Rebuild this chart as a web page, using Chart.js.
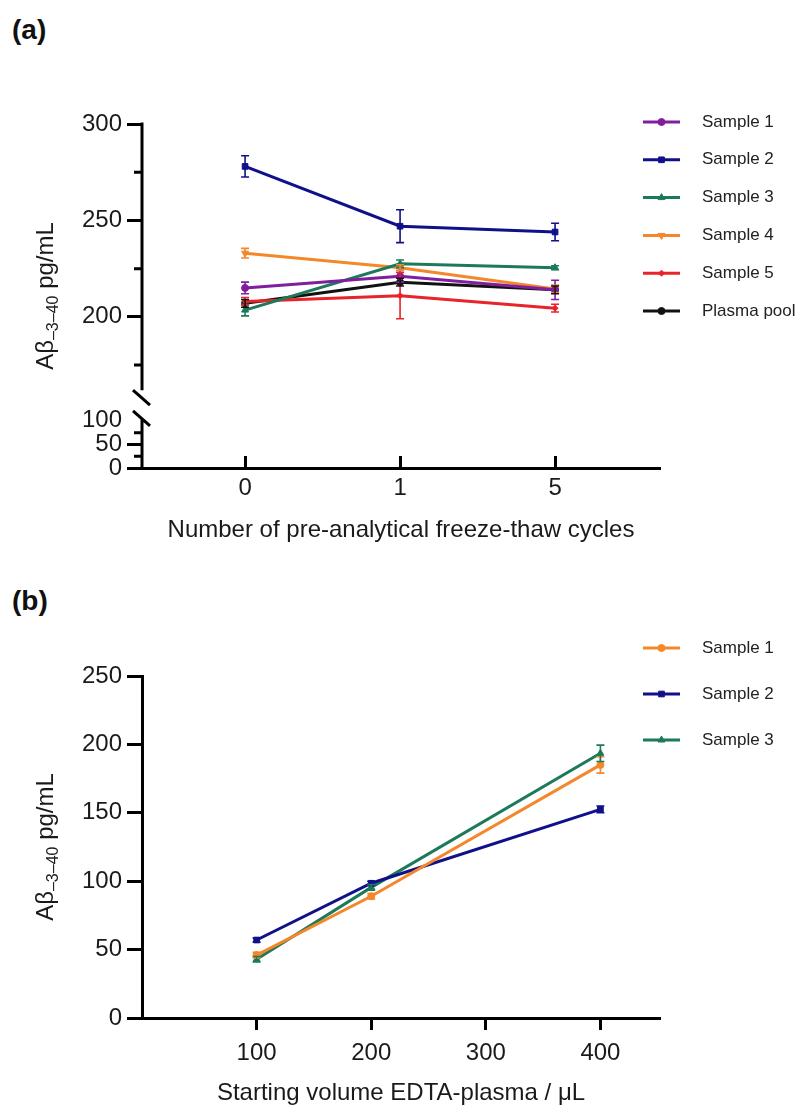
<!DOCTYPE html>
<html>
<head>
<meta charset="utf-8">
<script src="https://cdn.jsdelivr.net/npm/chart.js"></script>
<style>
  body { margin: 0; background: #fff; width: 799px; height: 1106px; position: relative; overflow: hidden; font-family: 'Liberation Sans', Arial, sans-serif; }
  canvas { position: absolute; left: 0; }
  .tag { position: absolute; left: 12px; font-weight: bold; font-size: 28px; line-height: 28px; color: #111; }
</style>
</head>
<body>
<div class="tag" style="top:16px">(a)</div>
<canvas id="chartA" width="799" height="550" style="top:0"></canvas>
<div class="tag" style="top:587px">(b)</div>
<canvas id="chartB" width="799" height="556" style="top:550px"></canvas>
<script>
// panel (a): freeze-thaw cycles
const cycleLabels = ['0', '1', '5'];
const ftSample1 = [215, 221, 214];
const ftSample1Err = [3, 3, 5];
const ftSample2 = [278, 247, 244];
const ftSample2Err = [5.5, 8.5, 4.5];
const ftSample3 = [203.5, 227.5, 225.5];
const ftSample3Err = [3, 2, 1];
const ftSample4 = [233, 225.5, 214.5];
const ftSample4Err = [2.5, 1.5, 2];
const ftSample5 = [208, 211, 204.5];
const ftSample5Err = [2, 12, 2];
const ftPool = [207, 218, 214];
const ftPoolErr = [2, 2, 2];
const upperTicks = [175, 200, 225, 250, 275, 300];
const lowerTicks = [0, 25, 50, 75, 100];

// panel (b): starting volume
const volumes = [100, 200, 400];
const volTicks = [100, 200, 300, 400];
const volSample1 = [46, 89, 185];
const volSample1Err = [2, 2, 6];
const volSample2 = [57, 98.5, 152.5];
const volSample2Err = [1.5, 1.5, 2.5];
const volSample3 = [43, 95.5, 193.5];
const volSample3Err = [2, 2, 6];

const PURPLE = '#7f1f9f', NAVY = '#10108a', GREEN = '#1c7a5a', ORANGE = '#f5872b', RED = '#e8232a', BLACK = '#111111';
const FONT = "'Liberation Sans', Arial, sans-serif";

Chart.defaults.font.family = FONT;
Chart.defaults.color = '#1a1a1a';
Chart.defaults.animation = false;

const toPoints = (xs, ys) => ys.map((y, i) => ({ x: xs[i], y: y }));
const setTicks = values => scale => { scale.ticks = values.map(v => ({ value: v })); };

function series(label, xs, ys, errs, color, style, radius, rotation) {
  return {
    label: label,
    data: toPoints(xs, ys),
    errors: errs,
    xAxisID: 'x',
    yAxisID: 'y',
    borderColor: color,
    backgroundColor: color,
    borderWidth: 3,
    pointStyle: style,
    pointRadius: radius,
    pointRotation: rotation || 0,
    pointBorderWidth: 1,
    tension: 0
  };
}

// error bars drawn from the same scales as the points
const errorBars = {
  id: 'errorBars',
  afterDatasetsDraw(chart) {
    const ctx = chart.ctx;
    chart.data.datasets.forEach((ds, i) => {
      if (!ds.errors) return;
      const meta = chart.getDatasetMeta(i);
      const xs = chart.scales[meta.xAxisID], ys = chart.scales[meta.yAxisID];
      ctx.save();
      ctx.strokeStyle = ds.borderColor;
      ctx.lineWidth = 1.6;
      ds.data.forEach((p, j) => {
        const e = ds.errors[j];
        if (!e) return;
        const x = xs.getPixelForValue(p.x);
        const yt = ys.getPixelForValue(p.y + e), yb = ys.getPixelForValue(p.y - e);
        ctx.beginPath();
        ctx.moveTo(x, yt); ctx.lineTo(x, yb);
        ctx.moveTo(x - 4, yt); ctx.lineTo(x + 4, yt);
        ctx.moveTo(x - 4, yb); ctx.lineTo(x + 4, yb);
        ctx.stroke();
      });
      ctx.restore();
    });
  }
};

const sideLegend = {
  id: 'sideLegend',
  afterDraw(chart, args, o) {
    const ctx = chart.ctx;
    chart.data.datasets.forEach((ds, i) => {
      const y = o.top + i * o.gap;
      ctx.save();
      ctx.strokeStyle = ds.borderColor;
      ctx.lineWidth = 3;
      ctx.beginPath(); ctx.moveTo(o.x, y); ctx.lineTo(o.x + 37, y); ctx.stroke();
      ctx.fillStyle = ds.borderColor;
      ctx.lineWidth = 1;
      if (Chart.helpers && Chart.helpers.drawPoint) {
        Chart.helpers.drawPoint(ctx, { pointStyle: ds.pointStyle, radius: ds.pointRadius, rotation: ds.pointRotation, borderWidth: 1 }, o.x + 18.5, y);
      }
      ctx.fillStyle = '#222';
      ctx.font = '17px ' + FONT;
      ctx.textBaseline = 'middle';
      ctx.fillText(ds.label, o.x + 59, y);
      ctx.restore();
    });
  }
};

// rotated y title with subscript
const yTitle = {
  id: 'yTitle',
  afterDraw(chart, args, o) {
    const ctx = chart.ctx;
    const parts = [['A\u03b2', 24, 0], ['\u20133\u201340', 16, 5], [' pg/mL', 24, 0]];
    ctx.save();
    ctx.translate(o.x, o.y);
    ctx.rotate(-Math.PI / 2);
    ctx.fillStyle = '#1a1a1a';
    ctx.textBaseline = 'alphabetic';
    let total = 0;
    parts.forEach(p => { ctx.font = p[1] + 'px ' + FONT; total += ctx.measureText(p[0]).width; });
    let x = -total / 2;
    parts.forEach(p => {
      ctx.font = p[1] + 'px ' + FONT;
      ctx.fillText(p[0], x, p[2]);
      x += ctx.measureText(p[0]).width;
    });
    ctx.restore();
  }
};

// broken y axis of panel (a)
const brokenAxis = {
  id: 'brokenAxis',
  afterDraw(chart) {
    const ctx = chart.ctx, up = chart.scales.y, lo = chart.scales.y2;
    const x = chart.chartArea.left;
    const yA = up.getPixelForValue(162), yB = lo.getPixelForValue(104);
    ctx.save();
    ctx.strokeStyle = '#000';
    ctx.lineWidth = 3;
    ctx.beginPath();
    ctx.moveTo(x, up.getPixelForValue(300) - 1.5); ctx.lineTo(x, yA);
    ctx.moveTo(x, lo.getPixelForValue(0) + 1.5); ctx.lineTo(x, yB);
    [175, 225, 275].forEach(v => { const y = up.getPixelForValue(v); ctx.moveTo(x - 8, y); ctx.lineTo(x, y); });
    [25, 75].forEach(v => { const y = lo.getPixelForValue(v); ctx.moveTo(x - 8, y); ctx.lineTo(x, y); });
    ctx.moveTo(x - 9, yA); ctx.lineTo(x + 8, yA + 15);
    ctx.moveTo(x - 9, yB - 8); ctx.lineTo(x + 8, yB + 7);
    ctx.stroke();
    ctx.restore();
  }
};

const majorOnly = (ctx) => (ctx.tick && ctx.tick.value % 50 === 0 && ctx.tick.value !== 100) ? '#000' : 'rgba(0,0,0,0)';
const yLabel = v => (v % 50 === 0 ? v : '');

const cycleIdx = cycleLabels.map((c, i) => i);

new Chart(document.getElementById('chartA'), {
  type: 'line',
  data: {
    datasets: [
      series('Sample 1', cycleIdx, ftSample1, ftSample1Err, PURPLE, 'circle', 3.5),
      series('Sample 2', cycleIdx, ftSample2, ftSample2Err, NAVY, 'rect', 4),
      series('Sample 3', cycleIdx, ftSample3, ftSample3Err, GREEN, 'triangle', 4),
      series('Sample 4', cycleIdx, ftSample4, ftSample4Err, ORANGE, 'triangle', 4, 180),
      series('Sample 5', cycleIdx, ftSample5, ftSample5Err, RED, 'rectRot', 3),
      series('Plasma pool', cycleIdx, ftPool, ftPoolErr, BLACK, 'circle', 3.5)
    ]
  },
  options: {
    responsive: false,
    devicePixelRatio: 1,
    layout: { padding: { left: 82, right: 139, top: 124, bottom: 8 } },
    plugins: {
      legend: { display: false },
      tooltip: { enabled: false },
      sideLegend: { x: 643, top: 122, gap: 37.8 },
      yTitle: { x: 53, y: 296 }
    },
    scales: {
      x: {
        type: 'linear', min: -0.665, max: 2.677,
        afterBuildTicks: setTicks(cycleIdx),
        afterFit: s => { s.height = 74; },
        grid: { drawOnChartArea: false, tickLength: -12, tickWidth: 3, tickColor: '#000' },
        border: { width: 3, color: '#000' },
        ticks: { padding: 18, font: { size: 24 }, color: '#1a1a1a', callback: v => cycleLabels[v] },
        title: { display: true, text: 'Number of pre-analytical freeze-thaw cycles', font: { size: 24, lineHeight: 1 }, padding: 0, color: '#1a1a1a' }
      },
      y2: {
        type: 'linear', position: 'left', stack: 'ft', stackWeight: 74, min: 0, max: 157,
        afterBuildTicks: setTicks(lowerTicks),
        afterFit: s => { s.width = 60; },
        grid: { drawOnChartArea: false, tickLength: 15, tickWidth: 3, tickColor: majorOnly },
        border: { display: false },
        ticks: { padding: 5, font: { size: 24 }, color: '#1a1a1a', autoSkip: false, callback: yLabel }
      },
      y: {
        type: 'linear', position: 'left', stack: 'ft', stackWeight: 270, min: 160, max: 300,
        afterBuildTicks: setTicks(upperTicks),
        afterFit: s => { s.width = 60; },
        grid: { drawOnChartArea: false, tickLength: 15, tickWidth: 3, tickColor: majorOnly },
        border: { display: false },
        ticks: { padding: 5, font: { size: 24 }, color: '#1a1a1a', autoSkip: false, callback: yLabel }
      }
    }
  },
  plugins: [errorBars, sideLegend, yTitle, brokenAxis]
});

new Chart(document.getElementById('chartB'), {
  type: 'line',
  data: {
    datasets: [
      series('Sample 1', volumes, volSample1, volSample1Err, ORANGE, 'circle', 3.5),
      series('Sample 2', volumes, volSample2, volSample2Err, NAVY, 'rect', 4),
      series('Sample 3', volumes, volSample3, volSample3Err, GREEN, 'triangle', 4)
    ]
  },
  options: {
    responsive: false,
    devicePixelRatio: 1,
    layout: { padding: { left: 82, right: 139, top: 126, bottom: 1 } },
    plugins: {
      legend: { display: false },
      tooltip: { enabled: false },
      sideLegend: { x: 643, top: 98, gap: 46 },
      yTitle: { x: 53, y: 297 }
    },
    scales: {
      x: {
        type: 'linear', min: 0, max: 452,
        afterBuildTicks: setTicks(volTicks),
        afterFit: s => { s.height = 87; },
        grid: { drawOnChartArea: false, tickLength: 12, tickWidth: 3, tickColor: '#000' },
        border: { width: 3, color: '#000' },
        ticks: { padding: 9, font: { size: 24 }, color: '#1a1a1a' },
        title: { display: true, text: 'Starting volume EDTA-plasma / \u03bcL', font: { size: 24, lineHeight: 1 }, padding: 0, color: '#1a1a1a' }
      },
      y: {
        type: 'linear', min: 0, max: 250,
        ticks: { stepSize: 50, padding: 5, font: { size: 24 }, color: '#1a1a1a' },
        afterFit: s => { s.width = 60; },
        grid: { drawOnChartArea: false, tickLength: 15, tickWidth: 3, tickColor: '#000' },
        border: { width: 3, color: '#000' }
      }
    }
  },
  plugins: [errorBars, sideLegend, yTitle]
});
</script>
</body>
</html>
